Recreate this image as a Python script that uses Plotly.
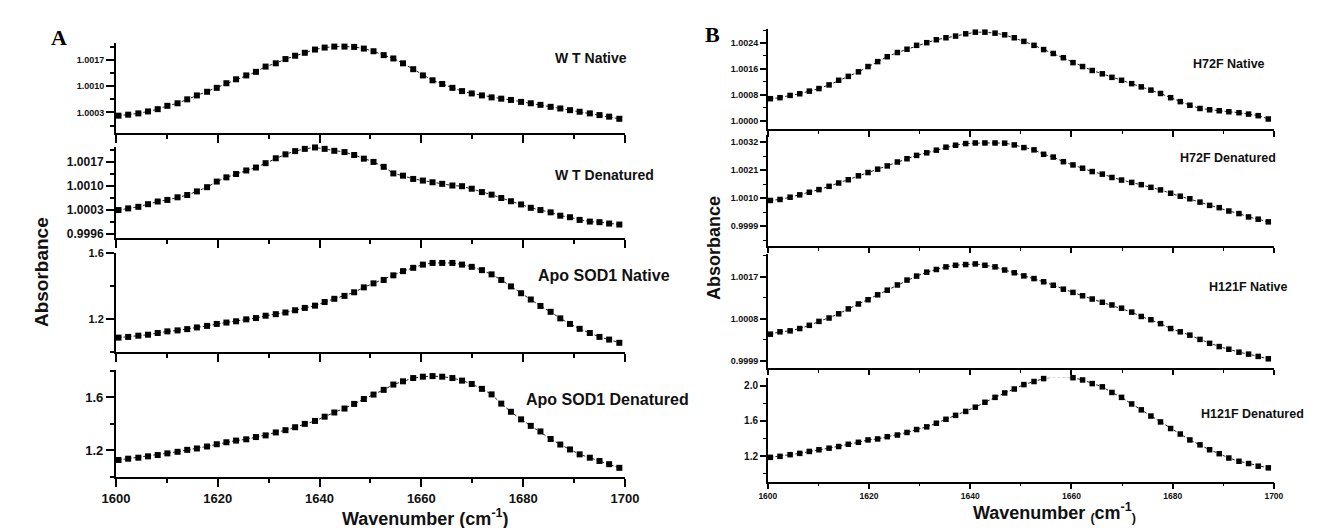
import plotly.graph_objects as go

# ---------------- data ----------------
wavenumber = [1600.5, 1602.4, 1604.4, 1606.3, 1608.2, 1610.1, 1612.1, 1614.0, 1615.9, 1617.9,
              1619.8, 1621.7, 1623.6, 1625.6, 1627.5, 1629.4, 1631.4, 1633.3, 1635.2, 1637.1,
              1639.1, 1641.0, 1642.9, 1644.9, 1646.8, 1648.7, 1650.6, 1652.6, 1654.5, 1656.4,
              1658.4, 1660.3, 1662.2, 1664.1, 1666.1, 1668.0, 1669.9, 1671.9, 1673.8, 1675.7,
              1677.6, 1679.6, 1681.5, 1683.4, 1685.4, 1687.3, 1689.2, 1691.1, 1693.1, 1695.0,
              1696.9, 1698.9]

wt_native = [1.000213, 1.000240, 1.000274, 1.000326, 1.000387, 1.000476, 1.000544, 1.000649, 1.000754, 1.000851,
             1.000956, 1.001079, 1.001184, 1.001288, 1.001383, 1.001524, 1.001611, 1.001724, 1.001813, 1.001892,
             1.001978, 1.002031, 1.002057, 1.002057, 1.002049, 1.002004, 1.001933, 1.001829, 1.001740, 1.001610,
             1.001454, 1.001288, 1.001157, 1.001060, 1.000956, 1.000869, 1.000806, 1.000754, 1.000701, 1.000667,
             1.000633, 1.000581, 1.000544, 1.000502, 1.000449, 1.000405, 1.000360, 1.000318, 1.000274, 1.000229,
             1.000187, 1.000130]

wt_denatured = [1.000300, 1.000349, 1.000395, 1.000472, 1.000550, 1.000596, 1.000673, 1.000739, 1.000845, 1.000968,
                1.001132, 1.001255, 1.001353, 1.001456, 1.001542, 1.001669, 1.001812, 1.001927, 1.002021, 1.002087,
                1.002128, 1.002087, 1.002030, 1.001993, 1.001907, 1.001801, 1.001706, 1.001562, 1.001370, 1.001304,
                1.001209, 1.001161, 1.001112, 1.001066, 1.001017, 1.000997, 1.000923, 1.000825, 1.000750, 1.000653,
                1.000558, 1.000464, 1.000366, 1.000300, 1.000234, 1.000136, 1.000091, 1.000013, 0.999964, 0.999947,
                0.999907, 0.999878]

apo_native = [1.0895, 1.0937, 1.1013, 1.1072, 1.1173, 1.1273, 1.1332, 1.1409, 1.1510, 1.1604,
              1.1722, 1.1805, 1.1882, 1.2000, 1.2077, 1.2219, 1.2313, 1.2414, 1.2549, 1.2691,
              1.2827, 1.3046, 1.3241, 1.3418, 1.3636, 1.3932, 1.4174, 1.4381, 1.4659, 1.4913,
              1.5113, 1.5308, 1.5409, 1.5409, 1.5409, 1.5308, 1.5173, 1.4972, 1.4718, 1.4381,
              1.3991, 1.3577, 1.3199, 1.2809, 1.2455, 1.2059, 1.1722, 1.1427, 1.1173, 1.0937,
              1.0777, 1.0582]

apo_denatured = [1.1282, 1.1378, 1.1452, 1.1556, 1.1652, 1.1778, 1.1896, 1.2044, 1.2148, 1.2296,
                 1.2467, 1.2615, 1.2741, 1.2837, 1.3007, 1.3133, 1.3356, 1.3526, 1.3748, 1.4000,
                 1.4222, 1.4541, 1.4859, 1.5155, 1.5504, 1.5874, 1.6207, 1.6563, 1.6963, 1.7207,
                 1.7452, 1.7555, 1.7600, 1.7555, 1.7452, 1.7259, 1.7007, 1.6637, 1.6222, 1.5526,
                 1.4911, 1.4341, 1.3852, 1.3430, 1.2859, 1.2444, 1.2074, 1.1704, 1.1452, 1.1207,
                 1.0963, 1.0689]

h72f_native = [1.000677, 1.000708, 1.000778, 1.000829, 1.000911, 1.000990, 1.001103, 1.001246, 1.001367, 1.001507,
               1.001671, 1.001823, 1.001975, 1.002105, 1.002206, 1.002327, 1.002409, 1.002500, 1.002561, 1.002613,
               1.002683, 1.002734, 1.002734, 1.002704, 1.002652, 1.002561, 1.002449, 1.002327, 1.002196, 1.002075,
               1.001944, 1.001792, 1.001671, 1.001549, 1.001446, 1.001337, 1.001246, 1.001142, 1.001042, 1.000942,
               1.000838, 1.000708, 1.000586, 1.000474, 1.000374, 1.000334, 1.000304, 1.000273, 1.000243, 1.000201,
               1.000152, 1.000049]

h72f_denatured = [1.000911, 1.000950, 1.001039, 1.001132, 1.001233, 1.001338, 1.001466, 1.001598, 1.001726, 1.001881,
                  1.002010, 1.002142, 1.002270, 1.002425, 1.002553, 1.002685, 1.002786, 1.002891, 1.003008, 1.003085,
                  1.003151, 1.003174, 1.003174, 1.003174, 1.003167, 1.003097, 1.002992, 1.002903, 1.002728, 1.002619,
                  1.002437, 1.002309, 1.002180, 1.002048, 1.001947, 1.001815, 1.001714, 1.001621, 1.001532, 1.001427,
                  1.001326, 1.001194, 1.001078, 1.000977, 1.000845, 1.000717, 1.000627, 1.000495, 1.000394, 1.000262,
                  1.000173, 1.000068]

h121f_native = [1.000470, 1.000520, 1.000541, 1.000590, 1.000659, 1.000743, 1.000815, 1.000905, 1.001010, 1.001115,
                1.001206, 1.001311, 1.001410, 1.001521, 1.001626, 1.001711, 1.001795, 1.001852, 1.001908, 1.001942,
                1.001957, 1.001971, 1.001942, 1.001908, 1.001841, 1.001782, 1.001715, 1.001658, 1.001589, 1.001515,
                1.001431, 1.001362, 1.001290, 1.001221, 1.001151, 1.001094, 1.001025, 1.000941, 1.000848, 1.000779,
                1.000695, 1.000590, 1.000520, 1.000449, 1.000358, 1.000274, 1.000205, 1.000148, 1.000085, 1.000043,
                0.999995, 0.999944]

h121f_denatured = [1.1854, 1.1966, 1.2157, 1.2303, 1.2527, 1.2717, 1.2896, 1.3087, 1.3344, 1.3569,
                   1.3837, 1.3950, 1.4207, 1.4398, 1.4689, 1.5025, 1.5328, 1.5742, 1.6190, 1.6638,
                   1.7087, 1.7568, 1.8129, 1.8689, 1.9193, 1.9641, 2.0145, 2.0493, 2.0829, 2.1008,
                   2.1008, 2.0929, 2.0672, 2.0257, 1.9888, 1.9249, 1.8689, 1.7938, 1.7266, 1.6560,
                   1.5888, 1.5137, 1.4510, 1.3837, 1.3277, 1.2717, 1.2269, 1.1776, 1.1406, 1.1148,
                   1.0846, 1.0655]

series_labels = ["W T Native", "W T Denatured", "Apo SOD1 Native", "Apo SOD1 Denatured",
                 "H72F Native", "H72F Denatured", "H121F Native", "H121F Denatured"]

x_major_ticks = [1600, 1620, 1640, 1660, 1680, 1700]
x_minor_ticks = [1610, 1630, 1650, 1670, 1690]

y_major_ticks = [
    [1.0003, 1.0010, 1.0017],
    [0.9996, 1.0003, 1.0010, 1.0017],
    [1.2, 1.6],
    [1.2, 1.6],
    [1.0000, 1.0008, 1.0016, 1.0024],
    [0.9999, 1.0010, 1.0021, 1.0032],
    [0.9999, 1.0008, 1.0017],
    [1.2, 1.6, 2.0],
]
y_tick_text = [
    ["1.0003", "1.0010", "1.0017"],
    ["0.9996", "1.0003", "1.0010", "1.0017"],
    ["1.2", "1.6"],
    ["1.2", "1.6"],
    ["1.0000", "1.0008", "1.0016", "1.0024"],
    ["0.9999", "1.0010", "1.0021", "1.0032"],
    ["0.9999", "1.0008", "1.0017"],
    ["1.2", "1.6", "2.0"],
]
y_minor_ticks = [
    [0.99995, 1.00065, 1.00135, 1.00205],
    [0.99995, 1.00065, 1.00135, 1.00205],
    [1.0, 1.4],
    [1.0, 1.4, 1.8],
    [1.0004, 1.0012, 1.0020, 1.0028],
    [0.99935, 1.00045, 1.00155, 1.00265],
    [1.00035, 1.00125, 1.00215],
    [1.0, 1.4, 1.8],
]

# ---------------- layout geometry (styles) ----------------
W, H = 1320, 528
series = [wt_native, wt_denatured, apo_native, apo_denatured,
          h72f_native, h72f_denatured, h121f_native, h121f_denatured]

xdom_A = [96 / W, 616 / W]
xdom_B = [762 / W, 1279 / W]
ypix = [(30, 120.7), (135, 227.7), (243.3, 344.3), (362.3, 471),
        (15, 117.3), (123.3, 235.7), (244.3, 360), (370, 475.7)]
yranges = [[0.99976, 1.00214], [0.99949, 1.00215], [1.0, 1.6], [1.0, 1.805],
           [0.99973, 1.00284], [0.99913, 1.00348], [0.99975, 1.00218], [0.909, 2.093]]
ytick_sizes = [9, 12, 11, 13, 9, 9, 9, 10]
label_pos = [(581, 45), (595, 164), (595, 266), (598, 392),
             (1233, 51), (1232, 147), (1253, 278), (1257, 407)]
label_sizes = [14, 14, 16, 16, 12.5, 12.5, 12.5, 12.5]

FONT = "Liberation Sans, Arial, sans-serif"

fig = go.Figure()
layout = dict(
    width=W, height=H, autosize=False,
    margin=dict(l=0, r=0, t=0, b=0, pad=0),
    paper_bgcolor="white", plot_bgcolor="white",
    showlegend=False,
    font=dict(family=FONT, color="black"),
)

annotations = []
for i in range(8):
    n = i + 1
    isA = i < 4
    xa = "x" if n == 1 else f"x{n}"
    ya = "y" if n == 1 else f"y{n}"
    msize = 6 if isA else 5.5
    fig.add_trace(go.Scatter(
        x=wavenumber, y=series[i], xaxis=xa, yaxis=ya, mode="lines+markers",
        name=series_labels[i],
        line=dict(color="#222222", width=1, dash="3px,2px"),
        marker=dict(symbol="square", size=msize, color="black"),
        cliponaxis=False, hoverinfo="x+y",
    ))
    top, bot = ypix[i]
    bottom_row = (i % 4 == 3)
    lw = 2 if isA else 1.7
    xkey = "xaxis" if n == 1 else f"xaxis{n}"
    ykey = "yaxis" if n == 1 else f"yaxis{n}"
    layout[xkey] = dict(
        domain=xdom_A if isA else xdom_B, anchor=ya, range=[1600, 1700],
        showline=True, linecolor="black", linewidth=lw, mirror=False,
        showgrid=False, zeroline=False,
        ticks="outside", tickvals=x_major_ticks, ticklen=8 if isA else 5.5,
        tickwidth=lw, tickcolor="black",
        showticklabels=bottom_row,
        tickfont=dict(family=FONT, size=13 if isA else 8.5, color="#111", weight="bold"),
        minor=dict(tickvals=x_minor_ticks, ticks="outside", ticklen=4 if isA else 3,
                   tickwidth=1.5 if isA else 1.2, tickcolor="black", showgrid=False),
    )
    layout[ykey] = dict(
        domain=[1 - bot / H, 1 - top / H], anchor=xa, range=yranges[i],
        showline=True, linecolor="black", linewidth=lw, mirror=False,
        showgrid=False, zeroline=False,
        ticks="outside", tickvals=y_major_ticks[i], ticktext=y_tick_text[i],
        ticklen=8 if isA else 6, tickwidth=lw, tickcolor="black",
        tickfont=dict(family=FONT, size=ytick_sizes[i], color="#111", weight="bold"),
        minor=dict(tickvals=y_minor_ticks[i], ticks="outside", ticklen=4 if isA else 3,
                   tickwidth=1.5 if isA else 1.2, tickcolor="black", showgrid=False),
    )
    lx, ly = label_pos[i]
    annotations.append(dict(
        x=lx / W, y=1 - ly / H, xref="paper", yref="paper", showarrow=False,
        xanchor="center", yanchor="middle",
        text=f"<b>{series_labels[i]}</b>",
        font=dict(family=FONT, size=label_sizes[i], color="#111"),
    ))

# axis titles and panel letters
annotations += [
    dict(x=20 / W, y=1 - 263 / H, xref="paper", yref="paper", showarrow=False,
         text="<b>Absorbance</b>", textangle=-90, xanchor="center", yanchor="middle",
         font=dict(family=FONT, size=19, color="#111")),
    dict(x=707 / W, y=1 - 238 / H, xref="paper", yref="paper", showarrow=False,
         text="<b>Absorbance</b>", textangle=-90, xanchor="center", yanchor="middle",
         font=dict(family=FONT, size=18, color="#111")),
    dict(x=412 / W, y=1 - 512 / H, xref="paper", yref="paper", showarrow=False,
         text="<b>Wavenumber (cm<sup>-1</sup>)</b>", xanchor="center", yanchor="middle",
         font=dict(family=FONT, size=18, color="#111")),
    dict(x=1055 / W, y=1 - 507 / H, xref="paper", yref="paper", showarrow=False,
         text="<b>Wavenumber <sub>(</sub>cm<sup>-1</sup><sub>)</sub></b>", xanchor="center", yanchor="middle",
         font=dict(family=FONT, size=18, color="#111")),
    dict(x=37.5 / W, y=1 - 23.5 / H, xref="paper", yref="paper", showarrow=False,
         text="<b>A</b>", xanchor="center", yanchor="middle",
         font=dict(family="Liberation Serif, Times New Roman, serif", size=22, color="black")),
    dict(x=705 / W, y=1 - 21 / H, xref="paper", yref="paper", showarrow=False,
         text="<b>B</b>", xanchor="center", yanchor="middle",
         font=dict(family="Liberation Serif, Times New Roman, serif", size=22, color="black")),
]
layout["annotations"] = annotations
fig.update_layout(**layout)

fig.write_html("out.html")
